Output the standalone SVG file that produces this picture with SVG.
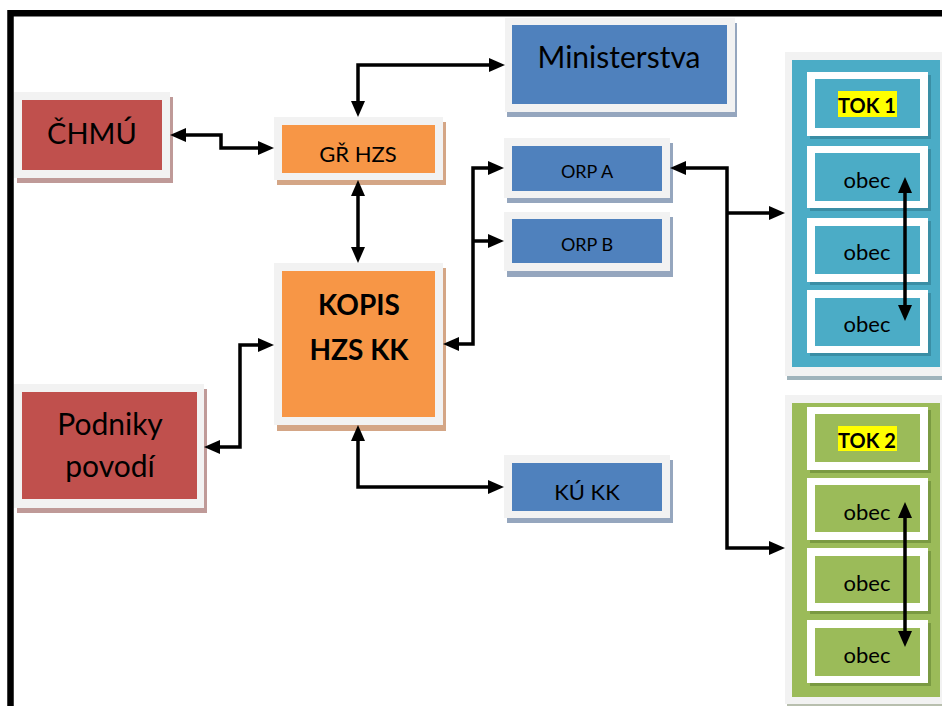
<svg xmlns="http://www.w3.org/2000/svg" width="942" height="706" viewBox="0 0 942 706">
<defs>
<marker id="arr" markerUnits="userSpaceOnUse" markerWidth="16" markerHeight="14" viewBox="0 0 16 14" refX="0" refY="7" orient="auto-start-reverse">
<path d="M0,0 L16,7 L0,14 z" fill="#000"/>
</marker>
</defs>
<style>
.o{fill:#f2f2f2}
.t{font-family:Lato,"Open Sans","Liberation Sans",sans-serif;fill:#000;text-anchor:middle}
.b{font-weight:bold}
.c{fill:none;stroke:#000;stroke-width:3.5}
.red{fill:#c0504d}.rs{fill:#bf9a98}
.org{fill:#f79646}.os{fill:#d4a686}
.blu{fill:#4f81bd}.bs{fill:#95a6be}
.tea{fill:#4bacc6}.ts{fill:#3a8ea5}
.grn{fill:#9bbb59}.gs{fill:#7a9a42}
.hl{fill:#ffff00}
</style>
<rect width="942" height="706" fill="#fff"/>
<path d="M10.5,706 V13.3 H942" fill="none" stroke="#000" stroke-width="6.5"/>

<g id="chmu">
<rect class="rs" x="17" y="97" width="156" height="86"/>
<rect class="o" x="14" y="92" width="156" height="86"/>
<rect class="red" x="22" y="100" width="140" height="70"/>
<text class="t" x="92" y="144" font-size="29">ČHMÚ</text>
</g>

<g id="gr-hzs">
<rect class="os" x="277" y="122" width="169" height="63"/>
<rect class="o" x="274" y="117" width="169" height="63"/>
<rect class="org" x="282" y="125" width="153" height="48"/>
<text class="t" x="358" y="162" font-size="22">GŘ HZS</text>
</g>

<g id="ministerstva">
<rect class="bs" x="507" y="23" width="230" height="94"/>
<rect class="o" x="505" y="18" width="230" height="94"/>
<rect class="blu" x="512" y="25" width="215" height="79"/>
<text class="t" x="619" y="68" font-size="30">Ministerstva</text>
</g>

<g id="orp-a">
<rect class="bs" x="507" y="143" width="166" height="60"/>
<rect class="o" x="504" y="138" width="166" height="60"/>
<rect class="blu" x="512" y="146" width="150" height="45"/>
<text class="t" x="587" y="178" font-size="18">ORP A</text>
</g>

<g id="orp-b">
<rect class="bs" x="507" y="217" width="166" height="60"/>
<rect class="o" x="504" y="212" width="166" height="59"/>
<rect class="blu" x="512" y="219" width="150" height="44"/>
<text class="t" x="587" y="251" font-size="18">ORP B</text>
</g>

<g id="ku-kk">
<rect class="bs" x="507" y="460" width="166" height="63"/>
<rect class="o" x="504" y="455" width="166" height="63"/>
<rect class="blu" x="512" y="463" width="150" height="48"/>
<text class="t" x="587" y="500" font-size="22">KÚ KK</text>
</g>

<g id="kopis">
<rect class="os" x="277" y="268" width="169" height="163"/>
<rect class="o" x="274" y="263" width="169" height="162"/>
<rect class="org" x="282" y="271" width="153" height="146"/>
<text class="t b" x="359" y="315" font-size="28">KOPIS</text>
<text class="t b" x="359" y="360" font-size="28">HZS KK</text>
</g>

<g id="podniky">
<rect class="rs" x="17" y="389" width="190" height="124"/>
<rect class="o" x="14" y="384" width="190" height="124"/>
<rect class="red" x="22" y="392" width="175" height="107"/>
<text class="t" x="110" y="435" font-size="30">Podniky</text>
<text class="t" x="110" y="477" font-size="30">povodí</text>
</g>

<g id="tok1">
<rect fill="#9fb3bb" x="787" y="58" width="160" height="322"/>
<rect class="o" x="785" y="52" width="160" height="324"/>
<rect class="tea" x="792" y="60" width="148" height="307"/>
<rect class="ts" x="810" y="75" width="121" height="64"/>
<rect fill="#fff" x="807" y="72" width="121" height="64"/>
<rect class="tea" x="815" y="79" width="105" height="49"/>
<rect class="hl" x="838" y="91" width="59" height="26"/>
<text class="t b" x="867" y="113" font-size="20">TOK 1</text>
<rect class="ts" x="810" y="149" width="121" height="62"/>
<rect fill="#fff" x="807" y="146" width="121" height="62"/>
<rect class="tea" x="815" y="153" width="105" height="48"/>
<text class="t" x="867" y="188" font-size="22">obec</text>
<rect class="ts" x="810" y="221" width="121" height="64"/>
<rect fill="#fff" x="807" y="218" width="121" height="64"/>
<rect class="tea" x="815" y="226" width="105" height="48"/>
<text class="t" x="867" y="260" font-size="22">obec</text>
<rect class="ts" x="810" y="293" width="121" height="63"/>
<rect fill="#fff" x="807" y="290" width="121" height="63"/>
<rect class="tea" x="815" y="298" width="105" height="48"/>
<text class="t" x="867" y="332" font-size="22">obec</text>
</g>

<g id="tok2">
<rect fill="#b8bfae" x="787" y="401" width="160" height="305"/>
<rect class="o" x="785" y="395" width="160" height="309"/>
<rect class="grn" x="792" y="403" width="148" height="294"/>
<rect class="gs" x="810" y="410" width="121" height="63"/>
<rect fill="#fff" x="807" y="407" width="121" height="63"/>
<rect class="grn" x="815" y="414" width="105" height="48"/>
<rect class="hl" x="838" y="426" width="59" height="25"/>
<text class="t b" x="867" y="448" font-size="20">TOK 2</text>
<rect class="gs" x="810" y="481" width="121" height="62"/>
<rect fill="#fff" x="807" y="478" width="121" height="62"/>
<rect class="grn" x="815" y="485" width="105" height="47"/>
<text class="t" x="867" y="520" font-size="22">obec</text>
<rect class="gs" x="810" y="551" width="121" height="63"/>
<rect fill="#fff" x="807" y="548" width="121" height="63"/>
<rect class="grn" x="815" y="556" width="105" height="47"/>
<text class="t" x="867" y="591" font-size="22">obec</text>
<rect class="gs" x="810" y="623" width="121" height="63"/>
<rect fill="#fff" x="807" y="620" width="121" height="63"/>
<rect class="grn" x="815" y="628" width="105" height="48"/>
<text class="t" x="867" y="663" font-size="22">obec</text>
</g>

<g id="connectors">
<path class="c" d="M186,135 H221 V148 H258" marker-start="url(#arr)" marker-end="url(#arr)"/>
<path class="c" d="M358,101 V65 H489" marker-start="url(#arr)" marker-end="url(#arr)"/>
<path class="c" d="M358,196 V247" marker-start="url(#arr)" marker-end="url(#arr)"/>
<path class="c" d="M220,447 H240 V345 H258" marker-start="url(#arr)" marker-end="url(#arr)"/>
<path class="c" d="M358,441 V487 H488" marker-start="url(#arr)" marker-end="url(#arr)"/>
<path class="c" d="M459,344 H473 V168 H488" marker-start="url(#arr)" marker-end="url(#arr)"/>
<path class="c" d="M473,241 H488" marker-end="url(#arr)"/>
<path class="c" d="M686,168 H727 V548 H769" marker-start="url(#arr)" marker-end="url(#arr)"/>
<path class="c" d="M727,213 H769" marker-end="url(#arr)"/>
<path class="c" d="M905,193 V305" marker-start="url(#arr)" marker-end="url(#arr)"/>
<path class="c" d="M905,518 V631" marker-start="url(#arr)" marker-end="url(#arr)"/>
</g>
</svg>
